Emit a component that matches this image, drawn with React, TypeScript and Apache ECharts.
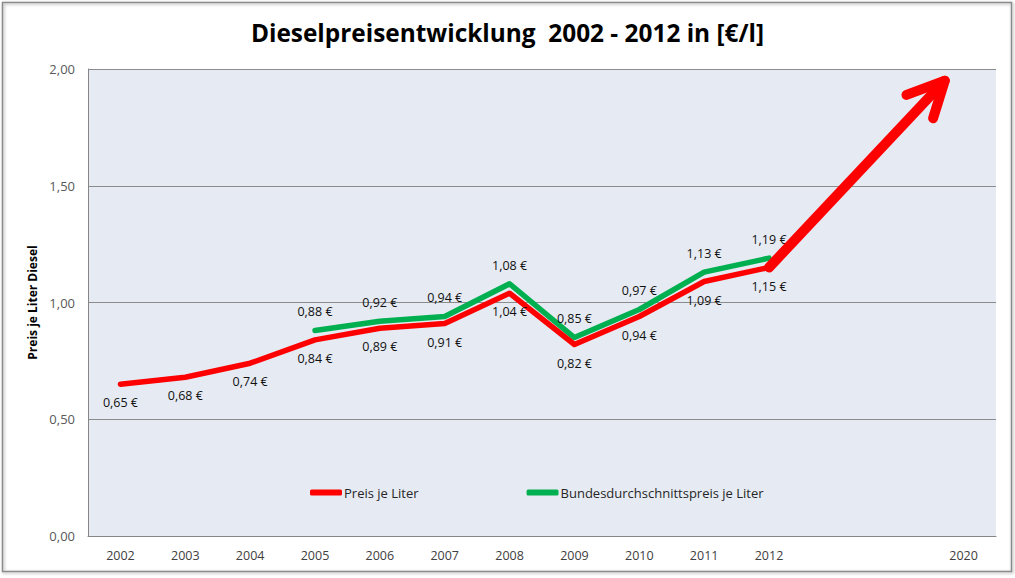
import React, { useEffect, useRef } from "react";
import * as echarts from "echarts";

const xLabels = ["2002", "2003", "2004", "2005", "2006", "2007", "2008", "2009", "2010", "2011", "2012", "", "", "2020"];
const priceValues = [0.65, 0.68, 0.74, 0.84, 0.89, 0.91, 1.04, 0.82, 0.94, 1.09, 1.15];
const nationalValues: (number | string)[] = ["-", "-", "-", 0.88, 0.92, 0.94, 1.08, 0.85, 0.97, 1.13, 1.19];
const arrowShaft = [[10, 1.15], [12.71, 1.95]];
const arrowHead = [[12.12, 1.889], [12.71, 1.95], [12.53, 1.789]];

const FONT = "Open Sans";
const fmtEuro = (v: number) => v.toFixed(2).replace(".", ",") + " €";

export default function App() {
  const ref = useRef<HTMLDivElement>(null);
  useEffect(() => {
    const chart = echarts.init(ref.current!, undefined, { renderer: "svg" });
    chart.setOption({
      animation: false,
      backgroundColor: "#ffffff",
      textStyle: { fontFamily: FONT },
      title: {
        text: "Dieselpreisentwicklung  2002 - 2012 in [€/l]",
        left: "center",
        top: 15,
        textStyle: { fontFamily: FONT, fontSize: 24.4, fontWeight: "bold", color: "#000000" },
      },
      graphic: [
        {
          type: "rect",
          z: -1,
          shape: { x: 2.5, y: 2.5, width: 1009, height: 569 },
          style: { fill: "none", stroke: "#8a8a8a", lineWidth: 1.5, shadowBlur: 3, shadowColor: "rgba(0,0,0,0.35)", shadowOffsetX: 1, shadowOffsetY: 1 },
        },
      ],
      grid: {
        left: 88,
        right: 19,
        top: 69,
        bottom: 42,
        show: true,
        backgroundColor: "#e6ebf3",
        borderWidth: 0,
      },
      legend: {
        left: 310,
        top: 486,
        padding: 0,
        itemGap: 108,
        itemWidth: 32,
        itemHeight: 6,
        textStyle: { fontFamily: FONT, fontSize: 13, color: "#262626", padding: [0, 0, 0, -3] },
        data: [
          { name: "Preis je Liter", icon: "roundRect" },
          { name: "Bundesdurchschnittspreis je Liter", icon: "roundRect" },
        ],
      },
      xAxis: [
        {
          type: "category",
          data: xLabels,
          boundaryGap: true,
          axisLine: { show: true, onZero: false, lineStyle: { color: "#868686", width: 1 } },
          axisTick: { show: false },
          axisLabel: { color: "#404040", fontSize: 12.5, margin: 13, interval: 0, fontFamily: FONT },
          splitLine: { show: false },
        },
        {
          type: "value",
          min: -0.5,
          max: 13.5,
          show: false,
          axisLine: { show: false, onZero: false },
          splitLine: { show: false },
        },
      ],
      yAxis: {
        type: "value",
        min: 0,
        max: 2,
        interval: 0.5,
        name: "Preis je Liter Diesel",
        nameLocation: "middle",
        nameGap: 50,
        nameRotate: 90,
        nameTextStyle: { fontFamily: FONT, fontSize: 12, fontWeight: "bold", color: "#000000" },
        axisLine: { show: true, onZero: false, lineStyle: { color: "#868686", width: 1 } },
        axisTick: { show: false },
        axisLabel: { color: "#595959", fontSize: 13, margin: 13, formatter: (v: number) => v.toFixed(2).replace(".", ","), fontFamily: FONT },
        splitLine: { show: true, lineStyle: { color: "#8c8c8c", width: 1 } },
      },
      series: [
        {
          name: "Preis je Liter",
          type: "line",
          data: priceValues,
          color: "#ff0000",
          symbol: "circle",
          symbolSize: 0.1,
          lineStyle: { color: "#ff0000", width: 5.5, cap: "round", join: "round" },
          itemStyle: { color: "#ff0000" },
          label: {
            show: true,
            position: "bottom",
            distance: 12,
            fontSize: 12.5,
            color: "#111111",
            fontFamily: FONT,
            formatter: (p: any) => fmtEuro(p.value),
          },
          z: 3,
        },
        {
          name: "Bundesdurchschnittspreis je Liter",
          type: "line",
          data: nationalValues,
          color: "#00b050",
          symbol: "circle",
          symbolSize: 0.1,
          lineStyle: { color: "#00b050", width: 5.5, cap: "round", join: "round" },
          itemStyle: { color: "#00b050" },
          label: {
            show: true,
            position: "top",
            distance: 12,
            fontSize: 12.5,
            color: "#111111",
            fontFamily: FONT,
            formatter: (p: any) => fmtEuro(p.value),
          },
          z: 2,
        },
        {
          name: "arrowShaft",
          type: "line",
          xAxisIndex: 1,
          data: arrowShaft,
          symbol: "none",
          silent: true,
          lineStyle: { color: "#ff0000", width: 10, cap: "round", join: "round" },
          z: 4,
        },
        {
          name: "arrowHead",
          type: "line",
          xAxisIndex: 1,
          data: arrowHead,
          symbol: "none",
          silent: true,
          lineStyle: { color: "#ff0000", width: 10, cap: "round", join: "round" },
          z: 4,
        },
      ],
    });
    return () => chart.dispose();
  }, []);
  return (
    <div
      ref={ref}
      style={{ position: "absolute", left: 0, top: 0, width: 1015, height: 578, background: "#ffffff" }}
    />
  );
}
